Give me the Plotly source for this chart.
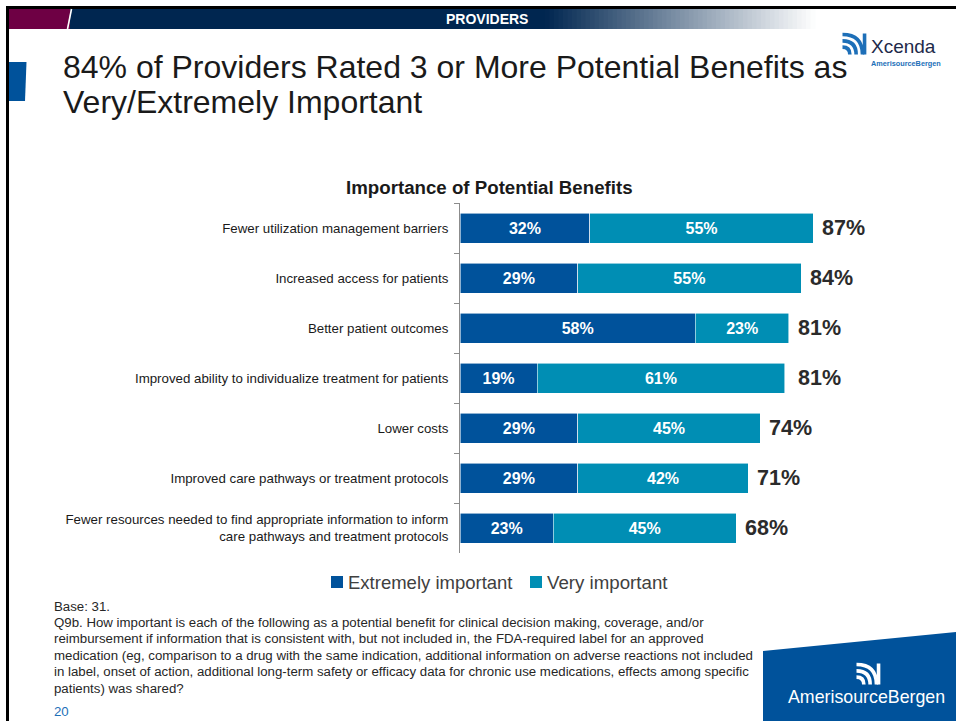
import plotly.graph_objects as go

# ---- data ----
categories = [
    "Fewer utilization management barriers",
    "Increased access for patients",
    "Better patient outcomes",
    "Improved ability to individualize treatment for patients",
    "Lower costs",
    "Improved care pathways or treatment protocols",
    "Fewer resources needed to find appropriate information to inform<br>care pathways and treatment protocols",
]
extremely_important = [32, 29, 58, 19, 29, 29, 23]
very_important = [55, 55, 23, 61, 45, 42, 45]
totals = [87, 84, 81, 81, 74, 71, 68]

series_names = ["Extremely important", "Very important"]
series_colors = ["#00529B", "#008EB4"]

W, H = 956, 721
FONT = "Liberation Sans, Arial, Helvetica, sans-serif"


def px(x):
    return x / W


def py(y):
    return 1 - y / H


fig = go.Figure()

for name, vals, col in zip(series_names, [extremely_important, very_important], series_colors):
    fig.add_trace(go.Bar(
        y=categories, x=vals, orientation="h", name=name,
        marker=dict(color=col, line=dict(color="rgba(255,255,255,0.7)", width=0.8)),
        width=0.6,
        text=[f"{v}%" for v in vals], textposition="inside",
        insidetextanchor="middle", textangle=0,
        textfont=dict(family=FONT, size=16, color="white", weight="bold"),
        hoverinfo="skip", showlegend=False,
    ))

annotations = []
# totals at the end of each bar
for cat, t in zip(categories, totals):
    annotations.append(dict(
        x=t, y=cat, xref="x", yref="y", text=f"{t}%", showarrow=False,
        xanchor="left", xshift=7,
        font=dict(family=FONT, size=21.5, color="#2b2b2b", weight="bold"),
    ))

shapes = []

# slide frame
shapes.append(dict(type="line", xref="paper", yref="paper",
                   x0=px(6), x1=px(956), y0=py(7.5), y1=py(7.5),
                   line=dict(color="black", width=3)))
shapes.append(dict(type="line", xref="paper", yref="paper",
                   x0=px(7.5), x1=px(7.5), y0=py(6), y1=py(721),
                   line=dict(color="black", width=3)))

# header banner: maroon block, navy block fading to white
shapes.append(dict(type="rect", xref="paper", yref="paper",
                   x0=px(9), x1=px(70), y0=py(29), y1=py(9),
                   fillcolor="#6E0044", line=dict(width=0), layer="below"))
shapes.append(dict(type="rect", xref="paper", yref="paper",
                   x0=px(70), x1=px(545), y0=py(29), y1=py(9),
                   fillcolor="#002650", line=dict(width=0), layer="below"))
navy = (0, 38, 80)
steps = 60
g0, g1 = 545, 815
for i in range(steps):
    f = (i + 0.5) / steps
    r = int(navy[0] + (255 - navy[0]) * f)
    g = int(navy[1] + (255 - navy[1]) * f)
    b = int(navy[2] + (255 - navy[2]) * f)
    xa = g0 + (g1 - g0) * i / steps
    xb = g0 + (g1 - g0) * (i + 1) / steps + 0.6
    shapes.append(dict(type="rect", xref="paper", yref="paper",
                       x0=px(xa), x1=px(xb), y0=py(29), y1=py(9),
                       fillcolor=f"rgb({r},{g},{b})", line=dict(width=0), layer="below"))
# white slash in the banner
shapes.append(dict(type="line", xref="paper", yref="paper",
                   x0=px(71.5), x1=px(67.5), y0=py(9), y1=py(29),
                   line=dict(color="white", width=1.6)))

# blue tab beside the title
shapes.append(dict(type="path", xref="paper", yref="paper",
                   path=f"M {px(9)} {py(62)} L {px(26.5)} {py(62)} L {px(25)} {py(101)} L {px(9)} {py(101)} Z",
                   fillcolor="#00529B", line=dict(width=0)))

# bottom-right brand panel
shapes.append(dict(type="path", xref="paper", yref="paper",
                   path=f"M {px(763)} {py(651)} L {px(956)} {py(632)} L {px(956)} {py(721)} L {px(763)} {py(721)} Z",
                   fillcolor="#00529B", line=dict(width=0)))


def wave_icon(cx, cy, s, color, width):
    """Small emblem: a vertical bar with three nested arcs."""
    out = []
    for k, rad in enumerate([0.35, 0.65, 0.95]):
        r = rad * s
        x0, y0 = cx - s * 0.5, cy + s * 0.5 - r
        x1, y1 = cx - s * 0.5 + r, cy + s * 0.5
        path = (f"M {px(x0)} {py(y0)} Q {px(x1)} {py(y0)} {px(x1)} {py(y1)}")
        out.append(dict(type="path", xref="paper", yref="paper", path=path,
                        line=dict(color=color, width=width)))
    out.append(dict(type="line", xref="paper", yref="paper",
                    x0=px(cx + s * 0.55), x1=px(cx + s * 0.55),
                    y0=py(cy - s * 0.5), y1=py(cy + s * 0.5),
                    line=dict(color=color, width=width)))
    return out


shapes += wave_icon(853, 44, 21, "#1D6FB8", 3.6)
shapes += wave_icon(867, 674, 21, "white", 3.6)

# legend swatches
shapes.append(dict(type="rect", xref="paper", yref="paper",
                   x0=px(331), x1=px(343), y0=py(588), y1=py(576),
                   fillcolor=series_colors[0], line=dict(width=0)))
shapes.append(dict(type="rect", xref="paper", yref="paper",
                   x0=px(530), x1=px(542), y0=py(588), y1=py(576),
                   fillcolor=series_colors[1], line=dict(width=0)))


def note(x, y, text, size, color="#1a1a1a", xanchor="left", yanchor="middle", bold=False, align="left"):
    font = dict(family=FONT, size=size, color=color)
    if bold:
        font["weight"] = "bold"
    annotations.append(dict(x=px(x), y=py(y), xref="paper", yref="paper", text=text,
                            showarrow=False, xanchor=xanchor, yanchor=yanchor,
                            align=align, font=font))


note(487, 19, "PROVIDERS", 14, color="white", xanchor="center", bold=True)
note(61, 67, "84% of Providers Rated 3 or More Potential Benefits as", 32)
note(61, 102, "Very/Extremely Important", 32)

note(869, 47, "Xcenda", 19, color="#1e2a4a", xanchor="left")
note(869, 64, "AmerisourceBergen", 7.3, color="#1D6FB8", xanchor="left", bold=True)
note(866, 697, "AmerisourceBergen", 17.8, color="white", xanchor="center")

note(489, 187, "Importance of Potential Benefits", 18.7, color="#1a1a1a", xanchor="center", bold=True)

note(346, 582, series_names[0], 18.5, color="#404040")
note(545, 582, series_names[1], 18.7, color="#404040")

foot_lines = [
    "Base: 31.",
    "Q9b. How important is each of the following as a potential benefit for clinical decision making, coverage, and/or",
    "reimbursement if information that is consistent with, but not included in, the FDA-required label for an approved",
    "medication (eg, comparison to a drug with the same indication, additional information on adverse reactions not included",
    "in label, onset of action, additional long-term safety or efficacy data for chronic use medications, effects among specific",
    "patients) was shared?",
]
for i, line in enumerate(foot_lines):
    note(52, 606 + i * 16.4, line, 13.25, color="#262626")
note(52, 711, "20", 13.25, color="#1D6FB8")

fig.update_layout(
    width=W, height=H,
    margin=dict(l=0, r=0, t=0, b=0),
    paper_bgcolor="white", plot_bgcolor="white",
    barmode="stack",
    showlegend=False,
    xaxis=dict(domain=[px(460), px(866)], range=[0, 100], visible=False, fixedrange=True),
    yaxis=dict(domain=[py(553), py(203)], autorange="reversed", type="category",
               showline=True, linecolor="#8c8c8c", linewidth=1,
               ticks="outside", tickson="boundaries", ticklen=5, tickcolor="#8c8c8c",
               showgrid=False, zeroline=False,
               tickfont=dict(family=FONT, size=13.3, color="#1a1a1a"),
               ticklabelstandoff=8),
    shapes=shapes,
    annotations=annotations,
    uniformtext=dict(mode=False),
)

fig.write_html("out.html")
